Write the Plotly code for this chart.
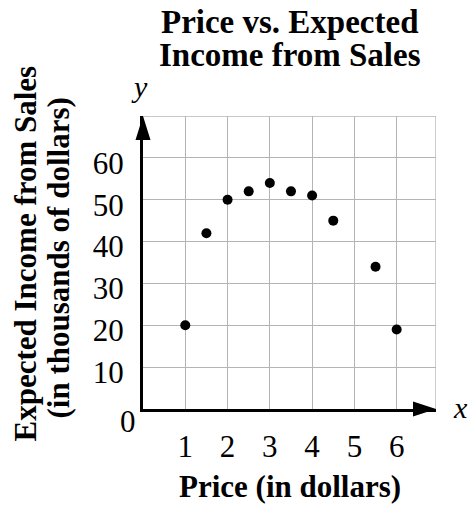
import plotly.graph_objects as go

# Price (dollars) vs expected income (thousands of dollars)
price = [1, 1.5, 2, 2.5, 3, 3.5, 4, 4.5, 5.5, 6]
income = [20, 42, 50, 52, 54, 52, 51, 45, 34, 19]

x_ticks = [1, 2, 3, 4, 5, 6]
y_ticks = [10, 20, 30, 40, 50, 60]
x_max = 6.93
y_max = 70

W, H = 468, 506
ML, MR, MT, MB = 143, 32, 116, 97
PW, PH = W - ML - MR, H - MT - MB

SERIF = "Liberation Serif"
GRID = "#b4b4b4"


def px_x(p):
    return (p - ML) / PW


def px_y(p):
    return (H - MB - p) / PH


fig = go.Figure()
fig.add_trace(go.Scatter(
    x=price, y=income, mode="markers",
    marker=dict(color="black", size=10),
    hoverinfo="x+y", showlegend=False,
))

shapes = [
    # top and right border of the grid
    dict(type="line", xref="x", yref="y", x0=0, x1=x_max, y0=y_max, y1=y_max,
         line=dict(color=GRID, width=1.3), layer="below"),
    dict(type="line", xref="x", yref="y", x0=x_max, x1=x_max, y0=0, y1=y_max,
         line=dict(color=GRID, width=1.3), layer="below"),
    # arrowheads on the axes
    dict(type="path", xref="paper", yref="paper",
         path=f"M {px_x(143)} {px_y(116)} L {px_x(135.5)} {px_y(140)} "
              f"L {px_x(150.5)} {px_y(140)} Z",
         fillcolor="black", line=dict(width=0)),
    dict(type="path", xref="paper", yref="paper",
         path=f"M {px_x(436)} {px_y(409)} L {px_x(413)} {px_y(401.5)} "
              f"L {px_x(413)} {px_y(416.5)} Z",
         fillcolor="black", line=dict(width=0)),
]

annotations = [
    dict(text="<b>Price vs. Expected</b>", x=px_x(290), y=px_y(22)),
    dict(text="<b>Income from Sales</b>", x=px_x(290), y=px_y(54.5)),
    dict(text="<b>Price (in dollars)</b>", x=px_x(290), y=px_y(486), size=31),
    dict(text="<b>Expected Income from Sales</b>", x=px_x(25), y=px_y(253.5),
         size=31, angle=-90),
    dict(text="<b>(in thousands of dollars)</b>", x=px_x(58), y=px_y(258.5),
         size=31, angle=-90),
    dict(text="0", x=px_x(127.5), y=px_y(421.5), size=31),
    dict(text="<i>y</i>", x=px_x(139), y=px_y(86), size=30),
    dict(text="<i>x</i>", x=px_x(460), y=px_y(407), size=30),
]

fig.update_layout(
    width=W, height=H,
    margin=dict(l=ML, r=MR, t=MT, b=MB),
    paper_bgcolor="white", plot_bgcolor="white",
    font=dict(family=SERIF, color="black"),
    shapes=shapes,
    annotations=[
        dict(text=a["text"], x=a["x"], y=a["y"], xref="paper", yref="paper",
             showarrow=False, xanchor="center", yanchor="middle",
             textangle=a.get("angle", 0),
             font=dict(family=SERIF, size=a.get("size", 33), color="black"))
        for a in annotations
    ],
    xaxis=dict(
        range=[0, x_max], tickvals=x_ticks, ticktext=[str(v) for v in x_ticks],
        showgrid=True, gridcolor=GRID, gridwidth=1.3,
        showline=True, linecolor="black", linewidth=3,
        zeroline=False, ticks="", ticklabelstandoff=8,
        tickfont=dict(family=SERIF, size=31, color="black"),
        fixedrange=True,
    ),
    yaxis=dict(
        range=[0, y_max], tickvals=y_ticks, ticktext=[str(v) for v in y_ticks],
        showgrid=True, gridcolor=GRID, gridwidth=1.3,
        showline=True, linecolor="black", linewidth=3,
        zeroline=False, ticks="", ticklabelstandoff=10, ticklabelshift=5,
        tickfont=dict(family=SERIF, size=31, color="black"),
        fixedrange=True,
    ),
)

fig.write_html("out.html")
